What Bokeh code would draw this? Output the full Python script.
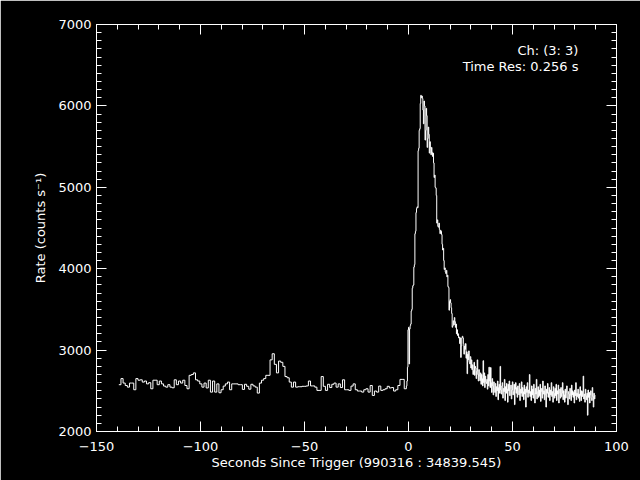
from bokeh.plotting import figure
from bokeh.models import Range1d, LinearAxis, SingleIntervalTicker, Label, CustomJSTickFormatter
from bokeh.embed import file_html
from bokeh.resources import INLINE

# ---- data ----
pre_res = 1.024
fine_res = 0.256
pre_end = -1.024

pre_rates = [
    2575, 2650, 2595, 2565, 2545, 2595, 2595, 2513,
    2650, 2630, 2635, 2607, 2620, 2585, 2600, 2525, 2630, 2630,
    2575, 2620, 2585, 2558, 2545, 2575, 2545, 2537, 2635, 2575,
    2620, 2595, 2630, 2565, 2525, 2690, 2700, 2720, 2635, 2620,
    2585, 2545, 2595, 2535, 2630, 2484, 2620, 2484, 2585, 2476,
    2513, 2558, 2585, 2607, 2513, 2585, 2585, 2585, 2575, 2575,
    2517, 2580, 2555, 2520, 2580, 2560, 2545, 2472, 2595, 2630,
    2650, 2690, 2690, 2880, 2955, 2825, 2720, 2865, 2850, 2800,
    2675, 2660, 2607, 2545, 2607, 2545, 2550, 2550, 2555, 2555,
    2560, 2620, 2560, 2560, 2545, 2505, 2505, 2675, 2555, 2505,
    2580, 2540, 2580, 2595, 2545, 2585, 2540, 2635, 2513, 2513,
    2505, 2558, 2585, 2513, 2497, 2497, 2484, 2513, 2525, 2484,
    2565, 2443, 2497, 2484, 2558, 2505, 2513, 2525, 2555, 2535,
    2540, 2497, 2513, 2565, 2640, 2640, 2525,
]

fine_rates = [
    2560, 2620, 2790, 3250,
    3280, 2830, 3260, 3300, 3320,
    3480, 3500, 3760, 3790, 3800,
    4020, 4050, 4430, 4460,
    4690, 4740, 4760, 4750,
    5450, 5480, 5700, 5720,
    6030, 6130, 6100, 6120,
    6090, 5950, 5780, 6060,
    6000, 5580, 5700, 5970,
    5880, 5490, 5600, 5740,
    5650, 5420, 5560, 5480,
    5400, 5490, 5430, 5380,
    5420, 5300, 5120, 5150,
    5000, 4990, 4900, 4560,
    4600, 4520, 4510, 4560,
    4480, 4430, 4470, 4460,
    4420, 4300, 4230, 4250,
    4100, 3990, 4010, 3960,
    3940, 3980, 3900, 3920,
    3780, 3770, 3490, 3600,
    3620, 3580, 3520, 3450,
    3280, 3300, 3360, 3310,
    3400, 3350, 3280, 3320,
    3200, 3250, 3180, 3200,
    3150, 3160, 3080, 3150,
    2910, 3050, 3150, 3170,
    3150, 3080, 2950, 3050,
    3010, 3080, 2900, 2980,
    2710, 2950, 2880, 2990,
    2850, 2830, 2920, 2780,
    2880, 2760, 2820, 2700,
    2750, 2850, 2690, 2800,
    2780, 2650, 2740, 2880,
    2700, 2620, 2760, 2680,
    2625, 2720, 2580, 2700,
    2650, 2560, 2870, 2600,
    2720, 2540, 2680, 2610,
    2590, 2640, 2520, 2700,
    2560, 2790, 2620, 2540,
    2786, 2600, 2480, 2650,
    2560, 2450, 2610, 2520, 2480, 2590, 2430, 2550,
    2500, 2620, 2390, 2540, 2580, 2470, 2800, 2510,
    2460, 2560, 2600, 2410, 2530, 2490, 2640, 2380,
    2550, 2470, 2590, 2520, 2360, 2580, 2500, 2620,
    2440, 2530, 2570, 2400, 2510, 2610, 2450, 2490,
    2580, 2330, 2520, 2600, 2470, 2540, 2420, 2560,
    2500, 2450, 2590, 2380, 2520, 2470, 2610, 2430,
    2540, 2490, 2390, 2570, 2460, 2520, 2300, 2550,
    2480, 2600, 2420, 2510, 2470, 2700, 2430, 2490,
    2380, 2560, 2450, 2520, 2410, 2580, 2470, 2350,
    2530, 2460, 2640, 2400, 2490, 2550, 2420, 2510,
    2440, 2580, 2370, 2490, 2530, 2410, 2620, 2460,
    2500, 2390, 2560, 2450, 2300, 2520, 2470, 2590,
    2420, 2480, 2540, 2380, 2510, 2450, 2600, 2430,
    2490, 2360, 2550, 2470, 2410, 2530, 2440, 2580,
    2380, 2500, 2460, 2570, 2350, 2480, 2520, 2410,
    2540, 2430, 2470, 2600, 2390, 2500, 2450, 2360,
    2520, 2410, 2480, 2560, 2420, 2330, 2490, 2460,
    2400, 2530, 2440, 2380, 2570, 2450, 2500, 2420,
    2480, 2350, 2510, 2440, 2600, 2390, 2470, 2430,
    2520, 2410, 2460, 2370, 2550, 2440, 2380, 2500,
    2430, 2490, 2680, 2400, 2460, 2360, 2520, 2440,
    2390, 2470, 2200, 2510, 2420, 2480, 2350, 2450,
    2500, 2410, 2380, 2540, 2430, 2300, 2470, 2400,
    2440,
]

title_text = "BATSE Trigger 7475"
x_label = "Seconds Since Trigger (990316 : 34839.545)"
y_label = "Rate (counts s\u207b\u00b9)"
ann_lines = ["Ch: (3: 3)", "Time Res: 0.256 s"]

# ---- build step edges ----
pre_start = pre_end - pre_res * len(pre_rates)
times = [pre_start + pre_res * i for i in range(len(pre_rates))]
times += [pre_end + fine_res * i for i in range(len(fine_rates))]
rates = pre_rates + fine_rates
times.append(pre_end + fine_res * len(fine_rates))
rates.append(fine_rates[-1])

FONT = "DejaVu Sans"
W = "white"

p = figure(width=640, height=480, output_backend="svg", toolbar_location=None,
           x_range=Range1d(-150, 100), y_range=Range1d(2000, 7000),
           background_fill_color="black", border_fill_color="black",
           min_border_left=96, min_border_right=24, min_border_top=24,
           min_border_bottom=49, x_axis_type=None, y_axis_type=None)
p.outline_line_color = None
p.grid.visible = False

blank = CustomJSTickFormatter(code="return ''")

def style(ax, labels=True):
    ax.axis_line_color = W
    ax.major_tick_line_color = W
    ax.minor_tick_line_color = W
    ax.major_tick_in = 10
    ax.major_tick_out = 0
    ax.minor_tick_in = 5
    ax.minor_tick_out = 0
    ax.major_label_text_color = W
    ax.major_label_text_font = FONT
    ax.major_label_text_font_size = "13px"
    ax.axis_label_text_color = W
    ax.axis_label_text_font = FONT
    ax.axis_label_text_font_size = "13px"
    ax.axis_label_text_font_style = "normal"
    if not labels:
        ax.formatter = blank
        ax.major_label_standoff = 0

xt = SingleIntervalTicker(interval=50, num_minor_ticks=5)
yt = SingleIntervalTicker(interval=1000, num_minor_ticks=10)

xb = LinearAxis(ticker=xt, axis_label=x_label)
style(xb)
xb.major_label_standoff = 10
xb.axis_label_standoff = 1
xb.major_label_overrides = {-150: "\u2212150", -100: "\u2212100", -50: "\u221250"}
p.add_layout(xb, "below")

yl = LinearAxis(ticker=yt, axis_label=y_label)
style(yl)
yl.major_label_standoff = 5
yl.axis_label_standoff = 7
p.add_layout(yl, "left")

xa = LinearAxis(ticker=xt)
style(xa, labels=False)
p.add_layout(xa, "above")

yr = LinearAxis(ticker=yt)
style(yr, labels=False)
p.add_layout(yr, "right")

p.step(times, rates, mode="after", line_color=W, line_width=1)

p.add_layout(Label(x=-25, y=7000, y_offset=13, text=title_text, text_color=W,
                   text_font=FONT, text_font_size="17px", text_align="center",
                   text_baseline="middle"))
p.add_layout(Label(x=81.7, y=6680, text=ann_lines[0], text_color=W,
                   text_font=FONT, text_font_size="13px", text_align="right",
                   text_baseline="middle"))
p.add_layout(Label(x=81.7, y=6490, text=ann_lines[1], text_color=W,
                   text_font=FONT, text_font_size="13px", text_align="right",
                   text_baseline="middle"))

open("out.html", "w").write(file_html(p, INLINE))
